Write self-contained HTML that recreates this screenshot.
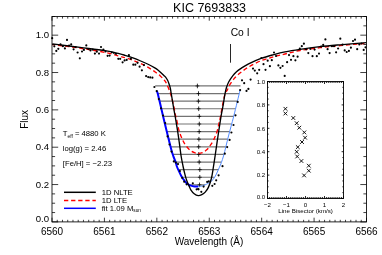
<!DOCTYPE html>
<html><head><meta charset="utf-8"><title>KIC 7693833</title>
<style>
html,body{margin:0;padding:0;background:#fff;width:382px;height:255px;overflow:hidden;font-family:"Liberation Sans",sans-serif;}
svg{display:block}
</style></head><body>
<svg width="382" height="255" viewBox="0 0 382 255" style="position:absolute;left:0;top:0;will-change:transform">
<path d="M155.20 85.95 H240.50 M157.69 93.56 H239.24 M159.54 101.17 H237.39 M161.34 108.77 H235.55 M163.15 116.38 H233.70 M164.96 123.99 H231.68 M166.80 131.60 H229.67 M168.70 139.21 H227.70 M170.60 146.81 H225.80 M172.80 154.42 H223.89 M175.58 162.03 H221.30 M178.25 169.64 H218.23 M182.11 177.25 H214.24 M189.31 184.85 H204.93" stroke="#000" stroke-width="1.2" fill="none" stroke-opacity="0.55"/>
<path d="M197.40 83.65 v4.6 M195.50 85.95 h3.8 M198.50 91.26 v4.6 M196.60 93.56 h3.8 M198.40 98.87 v4.6 M196.50 101.17 h3.8 M198.70 106.47 v4.6 M196.80 108.77 h3.8 M199.30 114.08 v4.6 M197.40 116.38 h3.8 M199.30 121.69 v4.6 M197.40 123.99 h3.8 M199.20 129.30 v4.6 M197.30 131.60 h3.8 M198.90 136.91 v4.6 M197.00 139.21 h3.8 M198.70 144.51 v4.6 M196.80 146.81 h3.8 M198.70 152.12 v4.6 M196.80 154.42 h3.8 M199.20 159.73 v4.6 M197.30 162.03 h3.8 M199.80 167.34 v4.6 M197.90 169.64 h3.8 M199.80 174.95 v4.6 M197.90 177.25 h3.8 M199.50 182.55 v4.6 M197.60 184.85 h3.8" stroke="#000" stroke-width="0.8" fill="none"/>
<path d="M156.60 90.60 C156.81 91.17 156.93 90.43 157.85 94.00 C158.77 97.57 160.67 106.00 162.10 112.00 C163.53 118.00 164.85 123.67 166.40 130.00 C167.95 136.33 170.23 145.62 171.40 150.00 C172.57 154.38 172.67 154.20 173.40 156.30 C174.13 158.40 175.25 160.98 175.80 162.60 C176.35 164.22 176.22 164.65 176.70 166.00 C177.18 167.35 177.92 169.00 178.70 170.70 C179.48 172.40 180.42 174.50 181.40 176.20 C182.38 177.90 183.55 179.58 184.60 180.90 C185.65 182.22 186.65 183.32 187.70 184.10 C188.75 184.88 189.77 185.22 190.90 185.60 C192.03 185.98 193.27 186.23 194.50 186.40 C195.73 186.57 197.67 186.57 198.30 186.60" stroke="#0000ff" stroke-width="2.0" fill="none"/>
<path d="M198.30 186.60 C199.32 186.37 201.95 186.37 204.40 185.20 C206.85 184.03 210.53 182.50 213.00 179.60 C215.47 176.70 217.45 171.73 219.20 167.80 C220.95 163.87 221.95 161.30 223.50 156.00 C225.05 150.70 226.78 142.67 228.50 136.00 C230.22 129.33 231.88 123.60 233.80 116.00 C235.72 108.40 238.97 94.67 240.00 90.40" stroke="#4a86ff" stroke-width="0.95" fill="none"/>
<path d="M52.30 44.50 C56.92 45.12 71.22 46.88 80.00 48.20 C88.78 49.52 98.48 51.08 105.00 52.40 C111.52 53.72 115.63 55.18 119.10 56.10 C122.57 57.02 123.63 57.27 125.80 57.90 C127.97 58.53 130.07 59.17 132.10 59.90 C134.13 60.63 135.98 61.42 138.00 62.30 C140.02 63.18 142.18 64.15 144.20 65.20 C146.22 66.25 148.22 67.43 150.10 68.60 C151.98 69.77 153.80 70.98 155.50 72.20 C157.20 73.42 158.82 74.55 160.30 75.90 C161.78 77.25 163.45 79.18 164.40 80.30 C165.35 81.42 165.40 81.48 166.00 82.60 C166.60 83.72 167.28 85.28 168.00 87.00 C168.72 88.72 169.67 91.07 170.30 92.90 C170.93 94.73 171.18 95.58 171.80 98.00 C172.42 100.42 173.38 104.52 174.00 107.40 C174.62 110.28 175.10 113.47 175.50 115.30 C175.90 117.13 175.90 116.18 176.40 118.40 C176.90 120.62 177.72 125.60 178.50 128.60 C179.28 131.60 180.05 133.83 181.10 136.40 C182.15 138.97 183.35 141.73 184.80 144.00 C186.25 146.27 188.18 148.55 189.80 150.00 C191.42 151.45 193.07 152.13 194.50 152.70 C195.93 153.27 197.08 153.40 198.40 153.40 C199.72 153.40 200.97 153.33 202.40 152.70 C203.83 152.07 205.67 150.85 207.00 149.60 C208.33 148.35 209.27 146.87 210.40 145.20 C211.53 143.53 212.70 141.85 213.80 139.60 C214.90 137.35 216.15 134.32 217.00 131.70 C217.85 129.08 218.35 126.25 218.90 123.90 C219.45 121.55 219.68 120.75 220.30 117.60 C220.92 114.45 221.78 109.05 222.60 105.00 C223.42 100.95 224.43 95.78 225.20 93.30 C225.97 90.82 226.35 91.67 227.20 90.10 C228.05 88.53 229.12 85.85 230.30 83.90 C231.48 81.95 233.25 79.72 234.30 78.40 C235.35 77.08 235.53 76.98 236.60 76.00 C237.67 75.02 238.70 74.00 240.70 72.50 C242.70 71.00 245.20 68.97 248.60 67.00 C252.00 65.03 256.92 62.40 261.10 60.70 C265.28 59.00 269.72 57.92 273.70 56.80 C277.68 55.68 280.62 55.05 285.00 54.00 C289.38 52.95 294.17 51.55 300.00 50.50 C305.83 49.45 313.33 48.52 320.00 47.70 C326.67 46.88 332.28 46.33 340.00 45.60 C347.72 44.87 361.92 43.68 366.30 43.30" stroke="#ff0000" stroke-width="1.35" fill="none" stroke-dasharray="4.3 2.8" stroke-dashoffset="1.3"/>
<path d="M52.30 43.80 C56.92 44.40 71.22 46.25 80.00 47.40 C88.78 48.55 98.48 49.65 105.00 50.70 C111.52 51.75 115.77 52.93 119.10 53.70 C122.43 54.47 122.70 54.60 125.00 55.30 C127.30 56.00 130.28 56.95 132.90 57.90 C135.52 58.85 138.08 59.90 140.70 61.00 C143.32 62.10 146.25 63.35 148.60 64.50 C150.95 65.65 153.25 66.98 154.80 67.90 C156.35 68.82 156.73 69.08 157.90 70.00 C159.07 70.92 160.77 72.45 161.80 73.40 C162.83 74.35 163.47 75.08 164.10 75.70 C164.73 76.32 165.02 76.33 165.60 77.10 C166.18 77.87 167.02 79.12 167.60 80.30 C168.18 81.48 168.65 82.90 169.10 84.20 C169.55 85.50 169.97 86.65 170.30 88.10 C170.63 89.55 170.73 90.73 171.10 92.90 C171.47 95.07 172.05 98.42 172.50 101.10 C172.95 103.78 173.37 106.52 173.80 109.00 C174.23 111.48 174.45 112.22 175.10 116.00 C175.75 119.78 177.00 127.25 177.70 131.70 C178.40 136.15 178.73 138.65 179.30 142.70 C179.87 146.75 180.47 152.03 181.10 156.00 C181.73 159.97 182.52 163.65 183.10 166.50 C183.68 169.35 184.10 171.08 184.60 173.10 C185.10 175.12 185.58 176.97 186.10 178.60 C186.62 180.23 187.23 181.73 187.70 182.90 C188.17 184.07 188.38 184.45 188.90 185.60 C189.42 186.75 189.92 188.45 190.80 189.80 C191.68 191.15 192.97 192.73 194.20 193.70 C195.43 194.67 196.93 195.45 198.20 195.60 C199.47 195.75 200.63 195.18 201.80 194.60 C202.97 194.02 204.10 193.30 205.20 192.10 C206.30 190.90 207.35 189.75 208.40 187.40 C209.45 185.05 210.67 181.40 211.50 178.00 C212.33 174.60 212.80 170.67 213.40 167.00 C214.00 163.33 214.33 161.17 215.10 156.00 C215.87 150.83 217.00 142.67 218.00 136.00 C219.00 129.33 220.22 121.28 221.10 116.00 C221.98 110.72 222.68 107.83 223.30 104.30 C223.92 100.77 224.28 97.55 224.80 94.80 C225.32 92.05 225.73 89.97 226.40 87.80 C227.07 85.63 227.72 83.83 228.80 81.80 C229.88 79.77 231.62 77.27 232.90 75.60 C234.18 73.93 235.20 72.97 236.50 71.80 C237.80 70.63 238.68 69.93 240.70 68.60 C242.72 67.27 245.20 65.50 248.60 63.80 C252.00 62.10 256.92 59.93 261.10 58.40 C265.28 56.87 269.72 55.70 273.70 54.60 C277.68 53.50 280.62 52.68 285.00 51.80 C289.38 50.92 294.17 50.15 300.00 49.30 C305.83 48.45 313.33 47.45 320.00 46.70 C326.67 45.95 332.28 45.48 340.00 44.80 C347.72 44.12 361.92 42.97 366.30 42.60" stroke="#000" stroke-width="1.35" fill="none"/>
<circle cx="52.20" cy="38.20" r="1.08" fill="#000"/>
<circle cx="54.30" cy="46.30" r="1.08" fill="#000"/>
<circle cx="56.30" cy="50.90" r="1.08" fill="#000"/>
<circle cx="58.30" cy="48.80" r="1.08" fill="#000"/>
<circle cx="60.50" cy="44.40" r="1.08" fill="#000"/>
<circle cx="62.90" cy="46.20" r="1.08" fill="#000"/>
<circle cx="64.90" cy="48.40" r="1.08" fill="#000"/>
<circle cx="67.00" cy="39.90" r="1.08" fill="#000"/>
<circle cx="69.10" cy="45.50" r="1.08" fill="#000"/>
<circle cx="71.20" cy="44.40" r="1.08" fill="#000"/>
<circle cx="73.60" cy="49.30" r="1.08" fill="#000"/>
<circle cx="75.60" cy="47.00" r="1.08" fill="#000"/>
<circle cx="77.60" cy="52.50" r="1.08" fill="#000"/>
<circle cx="79.80" cy="58.30" r="1.08" fill="#000"/>
<circle cx="82.00" cy="51.50" r="1.08" fill="#000"/>
<circle cx="83.90" cy="49.90" r="1.08" fill="#000"/>
<circle cx="86.30" cy="45.40" r="1.08" fill="#000"/>
<circle cx="88.40" cy="49.00" r="1.08" fill="#000"/>
<circle cx="90.50" cy="50.40" r="1.08" fill="#000"/>
<circle cx="92.70" cy="49.60" r="1.08" fill="#000"/>
<circle cx="94.90" cy="53.60" r="1.08" fill="#000"/>
<circle cx="96.80" cy="51.70" r="1.08" fill="#000"/>
<circle cx="99.00" cy="53.60" r="1.08" fill="#000"/>
<circle cx="101.00" cy="47.00" r="1.08" fill="#000"/>
<circle cx="103.40" cy="49.60" r="1.08" fill="#000"/>
<circle cx="105.50" cy="51.50" r="1.08" fill="#000"/>
<circle cx="107.60" cy="55.80" r="1.08" fill="#000"/>
<circle cx="109.60" cy="55.60" r="1.08" fill="#000"/>
<circle cx="111.80" cy="52.30" r="1.08" fill="#000"/>
<circle cx="113.90" cy="52.80" r="1.08" fill="#000"/>
<circle cx="116.00" cy="53.80" r="1.08" fill="#000"/>
<circle cx="118.30" cy="58.80" r="1.08" fill="#000"/>
<circle cx="120.20" cy="58.80" r="1.08" fill="#000"/>
<circle cx="122.60" cy="62.30" r="1.08" fill="#000"/>
<circle cx="124.60" cy="60.40" r="1.08" fill="#000"/>
<circle cx="126.70" cy="59.90" r="1.08" fill="#000"/>
<circle cx="128.90" cy="55.20" r="1.08" fill="#000"/>
<circle cx="130.90" cy="58.80" r="1.08" fill="#000"/>
<circle cx="133.30" cy="64.70" r="1.08" fill="#000"/>
<circle cx="135.30" cy="64.70" r="1.08" fill="#000"/>
<circle cx="137.50" cy="62.80" r="1.08" fill="#000"/>
<circle cx="139.60" cy="66.70" r="1.08" fill="#000"/>
<circle cx="141.90" cy="70.30" r="1.08" fill="#000"/>
<circle cx="143.90" cy="65.10" r="1.08" fill="#000"/>
<circle cx="146.10" cy="76.10" r="1.08" fill="#000"/>
<circle cx="148.20" cy="77.10" r="1.08" fill="#000"/>
<circle cx="150.20" cy="77.40" r="1.08" fill="#000"/>
<circle cx="152.40" cy="77.70" r="1.08" fill="#000"/>
<circle cx="154.40" cy="87.00" r="1.08" fill="#000"/>
<circle cx="242.00" cy="80.30" r="1.08" fill="#000"/>
<circle cx="244.20" cy="83.20" r="1.08" fill="#000"/>
<circle cx="246.50" cy="90.90" r="1.08" fill="#000"/>
<circle cx="248.40" cy="88.90" r="1.08" fill="#000"/>
<circle cx="250.60" cy="79.60" r="1.08" fill="#000"/>
<circle cx="253.00" cy="68.60" r="1.08" fill="#000"/>
<circle cx="254.80" cy="70.60" r="1.08" fill="#000"/>
<circle cx="257.20" cy="73.30" r="1.08" fill="#000"/>
<circle cx="259.20" cy="69.80" r="1.08" fill="#000"/>
<circle cx="261.40" cy="58.00" r="1.08" fill="#000"/>
<circle cx="263.50" cy="64.20" r="1.08" fill="#000"/>
<circle cx="265.50" cy="69.80" r="1.08" fill="#000"/>
<circle cx="267.70" cy="60.70" r="1.08" fill="#000"/>
<circle cx="269.90" cy="66.20" r="1.08" fill="#000"/>
<circle cx="271.80" cy="60.20" r="1.08" fill="#000"/>
<circle cx="274.00" cy="52.50" r="1.08" fill="#000"/>
<circle cx="276.00" cy="56.00" r="1.08" fill="#000"/>
<circle cx="278.40" cy="65.40" r="1.08" fill="#000"/>
<circle cx="280.40" cy="67.80" r="1.08" fill="#000"/>
<circle cx="282.60" cy="66.00" r="1.08" fill="#000"/>
<circle cx="284.70" cy="75.90" r="1.08" fill="#000"/>
<circle cx="287.10" cy="62.20" r="1.08" fill="#000"/>
<circle cx="289.00" cy="55.10" r="1.08" fill="#000"/>
<circle cx="291.00" cy="59.80" r="1.08" fill="#000"/>
<circle cx="293.40" cy="56.20" r="1.08" fill="#000"/>
<circle cx="295.40" cy="60.30" r="1.08" fill="#000"/>
<circle cx="297.60" cy="56.70" r="1.08" fill="#000"/>
<circle cx="299.80" cy="48.50" r="1.08" fill="#000"/>
<circle cx="301.80" cy="46.20" r="1.08" fill="#000"/>
<circle cx="303.90" cy="43.70" r="1.08" fill="#000"/>
<circle cx="306.10" cy="49.30" r="1.08" fill="#000"/>
<circle cx="308.30" cy="53.10" r="1.08" fill="#000"/>
<circle cx="310.30" cy="48.80" r="1.08" fill="#000"/>
<circle cx="312.50" cy="56.20" r="1.08" fill="#000"/>
<circle cx="314.60" cy="49.60" r="1.08" fill="#000"/>
<circle cx="316.80" cy="56.20" r="1.08" fill="#000"/>
<circle cx="319.00" cy="53.60" r="1.08" fill="#000"/>
<circle cx="321.10" cy="46.50" r="1.08" fill="#000"/>
<circle cx="323.20" cy="44.90" r="1.08" fill="#000"/>
<circle cx="325.40" cy="39.40" r="1.08" fill="#000"/>
<circle cx="327.60" cy="49.20" r="1.08" fill="#000"/>
<circle cx="329.60" cy="53.10" r="1.08" fill="#000"/>
<circle cx="331.90" cy="46.20" r="1.08" fill="#000"/>
<circle cx="334.00" cy="46.20" r="1.08" fill="#000"/>
<circle cx="336.10" cy="52.30" r="1.08" fill="#000"/>
<circle cx="338.10" cy="48.50" r="1.08" fill="#000"/>
<circle cx="340.30" cy="38.70" r="1.08" fill="#000"/>
<circle cx="342.60" cy="44.60" r="1.08" fill="#000"/>
<circle cx="344.70" cy="50.40" r="1.08" fill="#000"/>
<circle cx="346.70" cy="52.00" r="1.08" fill="#000"/>
<circle cx="348.90" cy="50.90" r="1.08" fill="#000"/>
<circle cx="350.90" cy="47.70" r="1.08" fill="#000"/>
<circle cx="353.00" cy="41.00" r="1.08" fill="#000"/>
<circle cx="355.00" cy="39.70" r="1.08" fill="#000"/>
<circle cx="357.20" cy="49.20" r="1.08" fill="#000"/>
<circle cx="359.30" cy="44.40" r="1.08" fill="#000"/>
<circle cx="361.50" cy="43.50" r="1.08" fill="#000"/>
<circle cx="363.70" cy="49.90" r="1.08" fill="#000"/>
<circle cx="365.50" cy="47.30" r="1.08" fill="#000"/>
<circle cx="240.10" cy="90.10" r="1.08" fill="#000"/>
<circle cx="237.70" cy="101.90" r="1.08" fill="#000"/>
<circle cx="235.50" cy="115.30" r="1.08" fill="#000"/>
<circle cx="233.50" cy="125.00" r="1.08" fill="#000"/>
<circle cx="231.40" cy="132.50" r="1.08" fill="#000"/>
<circle cx="229.60" cy="139.90" r="1.08" fill="#000"/>
<circle cx="227.20" cy="147.10" r="1.08" fill="#000"/>
<circle cx="224.80" cy="153.70" r="1.08" fill="#000"/>
<circle cx="222.50" cy="166.20" r="1.08" fill="#000"/>
<circle cx="218.60" cy="175.30" r="1.08" fill="#000"/>
<circle cx="216.20" cy="180.30" r="1.08" fill="#000"/>
<circle cx="214.60" cy="184.00" r="1.08" fill="#000"/>
<circle cx="212.30" cy="185.80" r="1.08" fill="#000"/>
<circle cx="208.80" cy="181.40" r="1.08" fill="#000"/>
<circle cx="207.20" cy="181.90" r="1.08" fill="#000"/>
<circle cx="203.60" cy="186.60" r="1.08" fill="#000"/>
<circle cx="201.30" cy="191.80" r="1.08" fill="#000"/>
<circle cx="198.50" cy="189.30" r="1.08" fill="#000"/>
<circle cx="196.60" cy="189.30" r="1.08" fill="#000"/>
<circle cx="198.10" cy="189.00" r="1.08" fill="#000"/>
<circle cx="156.70" cy="91.10" r="1.08" fill="#000"/>
<circle cx="158.80" cy="99.10" r="1.08" fill="#000"/>
<circle cx="161.00" cy="108.30" r="1.08" fill="#000"/>
<circle cx="163.05" cy="115.50" r="1.08" fill="#000"/>
<circle cx="165.20" cy="123.00" r="1.08" fill="#000"/>
<circle cx="167.60" cy="136.40" r="1.08" fill="#000"/>
<circle cx="169.50" cy="144.50" r="1.08" fill="#000"/>
<circle cx="171.50" cy="151.60" r="1.08" fill="#000"/>
<circle cx="173.80" cy="161.40" r="1.08" fill="#000"/>
<circle cx="175.80" cy="162.60" r="1.08" fill="#000"/>
<circle cx="178.00" cy="164.10" r="1.08" fill="#000"/>
<circle cx="179.90" cy="171.10" r="1.08" fill="#000"/>
<circle cx="182.20" cy="177.80" r="1.08" fill="#000"/>
<circle cx="184.20" cy="181.70" r="1.08" fill="#000"/>
<circle cx="186.60" cy="184.30" r="1.08" fill="#000"/>
<circle cx="192.80" cy="183.30" r="1.08" fill="#000"/>
<path d="M230.5 44 V62.7" stroke="#000" stroke-width="0.85"/>
<text x="230.7" y="35.6" font-family="Liberation Sans, sans-serif" font-size="10.3" fill="#000">Co I</text>
<rect x="52.00" y="16.50" width="314.50" height="205.40" fill="none" stroke="#000" stroke-width="0.85"/>
<path d="M52.00 221.90 v-4.20 M52.00 16.50 v4.20 M57.24 221.90 v-2.10 M57.24 16.50 v2.10 M62.48 221.90 v-2.10 M62.48 16.50 v2.10 M67.72 221.90 v-2.10 M67.72 16.50 v2.10 M72.97 221.90 v-2.10 M72.97 16.50 v2.10 M78.21 221.90 v-2.10 M78.21 16.50 v2.10 M83.45 221.90 v-2.10 M83.45 16.50 v2.10 M88.69 221.90 v-2.10 M88.69 16.50 v2.10 M93.93 221.90 v-2.10 M93.93 16.50 v2.10 M99.17 221.90 v-2.10 M99.17 16.50 v2.10 M104.42 221.90 v-4.20 M104.42 16.50 v4.20 M109.66 221.90 v-2.10 M109.66 16.50 v2.10 M114.90 221.90 v-2.10 M114.90 16.50 v2.10 M120.14 221.90 v-2.10 M120.14 16.50 v2.10 M125.38 221.90 v-2.10 M125.38 16.50 v2.10 M130.62 221.90 v-2.10 M130.62 16.50 v2.10 M135.87 221.90 v-2.10 M135.87 16.50 v2.10 M141.11 221.90 v-2.10 M141.11 16.50 v2.10 M146.35 221.90 v-2.10 M146.35 16.50 v2.10 M151.59 221.90 v-2.10 M151.59 16.50 v2.10 M156.83 221.90 v-4.20 M156.83 16.50 v4.20 M162.07 221.90 v-2.10 M162.07 16.50 v2.10 M167.32 221.90 v-2.10 M167.32 16.50 v2.10 M172.56 221.90 v-2.10 M172.56 16.50 v2.10 M177.80 221.90 v-2.10 M177.80 16.50 v2.10 M183.04 221.90 v-2.10 M183.04 16.50 v2.10 M188.28 221.90 v-2.10 M188.28 16.50 v2.10 M193.53 221.90 v-2.10 M193.53 16.50 v2.10 M198.77 221.90 v-2.10 M198.77 16.50 v2.10 M204.01 221.90 v-2.10 M204.01 16.50 v2.10 M209.25 221.90 v-4.20 M209.25 16.50 v4.20 M214.49 221.90 v-2.10 M214.49 16.50 v2.10 M219.73 221.90 v-2.10 M219.73 16.50 v2.10 M224.97 221.90 v-2.10 M224.97 16.50 v2.10 M230.22 221.90 v-2.10 M230.22 16.50 v2.10 M235.46 221.90 v-2.10 M235.46 16.50 v2.10 M240.70 221.90 v-2.10 M240.70 16.50 v2.10 M245.94 221.90 v-2.10 M245.94 16.50 v2.10 M251.18 221.90 v-2.10 M251.18 16.50 v2.10 M256.43 221.90 v-2.10 M256.43 16.50 v2.10 M261.67 221.90 v-4.20 M261.67 16.50 v4.20 M266.91 221.90 v-2.10 M266.91 16.50 v2.10 M272.15 221.90 v-2.10 M272.15 16.50 v2.10 M277.39 221.90 v-2.10 M277.39 16.50 v2.10 M282.63 221.90 v-2.10 M282.63 16.50 v2.10 M287.88 221.90 v-2.10 M287.88 16.50 v2.10 M293.12 221.90 v-2.10 M293.12 16.50 v2.10 M298.36 221.90 v-2.10 M298.36 16.50 v2.10 M303.60 221.90 v-2.10 M303.60 16.50 v2.10 M308.84 221.90 v-2.10 M308.84 16.50 v2.10 M314.08 221.90 v-4.20 M314.08 16.50 v4.20 M319.32 221.90 v-2.10 M319.32 16.50 v2.10 M324.57 221.90 v-2.10 M324.57 16.50 v2.10 M329.81 221.90 v-2.10 M329.81 16.50 v2.10 M335.05 221.90 v-2.10 M335.05 16.50 v2.10 M340.29 221.90 v-2.10 M340.29 16.50 v2.10 M345.53 221.90 v-2.10 M345.53 16.50 v2.10 M350.77 221.90 v-2.10 M350.77 16.50 v2.10 M356.02 221.90 v-2.10 M356.02 16.50 v2.10 M361.26 221.90 v-2.10 M361.26 16.50 v2.10 M366.50 221.90 v-4.20 M366.50 16.50 v4.20 M52.00 221.90 h6.20 M366.50 221.90 h-6.20 M52.00 212.56 h3.10 M366.50 212.56 h-3.10 M52.00 203.23 h3.10 M366.50 203.23 h-3.10 M52.00 193.89 h3.10 M366.50 193.89 h-3.10 M52.00 184.55 h6.20 M366.50 184.55 h-6.20 M52.00 175.22 h3.10 M366.50 175.22 h-3.10 M52.00 165.88 h3.10 M366.50 165.88 h-3.10 M52.00 156.55 h3.10 M366.50 156.55 h-3.10 M52.00 147.21 h6.20 M366.50 147.21 h-6.20 M52.00 137.87 h3.10 M366.50 137.87 h-3.10 M52.00 128.54 h3.10 M366.50 128.54 h-3.10 M52.00 119.20 h3.10 M366.50 119.20 h-3.10 M52.00 109.86 h6.20 M366.50 109.86 h-6.20 M52.00 100.53 h3.10 M366.50 100.53 h-3.10 M52.00 91.19 h3.10 M366.50 91.19 h-3.10 M52.00 81.85 h3.10 M366.50 81.85 h-3.10 M52.00 72.52 h6.20 M366.50 72.52 h-6.20 M52.00 63.18 h3.10 M366.50 63.18 h-3.10 M52.00 53.85 h3.10 M366.50 53.85 h-3.10 M52.00 44.51 h3.10 M366.50 44.51 h-3.10 M52.00 35.17 h6.20 M366.50 35.17 h-6.20 M52.00 25.84 h3.10 M366.50 25.84 h-3.10 M52.00 16.50 h3.10 M366.50 16.50 h-3.10" stroke="#000" stroke-width="0.75" fill="none"/>
<text x="52.00" y="234.5" text-anchor="middle" font-family="Liberation Sans, sans-serif" font-size="10" fill="#000">6560</text>
<text x="104.42" y="234.5" text-anchor="middle" font-family="Liberation Sans, sans-serif" font-size="10" fill="#000">6561</text>
<text x="156.83" y="234.5" text-anchor="middle" font-family="Liberation Sans, sans-serif" font-size="10" fill="#000">6562</text>
<text x="209.25" y="234.5" text-anchor="middle" font-family="Liberation Sans, sans-serif" font-size="10" fill="#000">6563</text>
<text x="261.67" y="234.5" text-anchor="middle" font-family="Liberation Sans, sans-serif" font-size="10" fill="#000">6564</text>
<text x="314.08" y="234.5" text-anchor="middle" font-family="Liberation Sans, sans-serif" font-size="10" fill="#000">6565</text>
<text x="366.50" y="234.5" text-anchor="middle" font-family="Liberation Sans, sans-serif" font-size="10" fill="#000">6566</text>
<text x="49.0" y="221.80" text-anchor="end" font-family="Liberation Sans, sans-serif" font-size="9.6" fill="#000">0.0</text>
<text x="49.0" y="187.65" text-anchor="end" font-family="Liberation Sans, sans-serif" font-size="9.6" fill="#000">0.2</text>
<text x="49.0" y="150.31" text-anchor="end" font-family="Liberation Sans, sans-serif" font-size="9.6" fill="#000">0.4</text>
<text x="49.0" y="112.96" text-anchor="end" font-family="Liberation Sans, sans-serif" font-size="9.6" fill="#000">0.6</text>
<text x="49.0" y="75.62" text-anchor="end" font-family="Liberation Sans, sans-serif" font-size="9.6" fill="#000">0.8</text>
<text x="49.0" y="38.27" text-anchor="end" font-family="Liberation Sans, sans-serif" font-size="9.6" fill="#000">1.0</text>
<text x="209.6" y="11.8" text-anchor="middle" font-family="Liberation Sans, sans-serif" font-size="12.5" fill="#000">KIC 7693833</text>
<text x="209" y="245.4" text-anchor="middle" font-family="Liberation Sans, sans-serif" font-size="10" fill="#000">Wavelength (Å)</text>
<text transform="translate(28.1 119.4) rotate(-90)" text-anchor="middle" font-family="Liberation Sans, sans-serif" font-size="10" fill="#000">Flux</text>
<text x="62.8" y="136" font-family="Liberation Sans, sans-serif" font-size="7.7" fill="#000">T<tspan font-size="4.8" dy="1.5">eff</tspan><tspan dy="-1.5"> = 4880 K</tspan></text>
<text x="62.8" y="150.6" font-family="Liberation Sans, sans-serif" font-size="7.7" fill="#000">log(g) = 2.46</text>
<text x="62.8" y="165.5" font-family="Liberation Sans, sans-serif" font-size="7.7" fill="#000">[Fe/H] = −2.23</text>
<path d="M64 192.3 H95.8" stroke="#000" stroke-width="1.5"/>
<path d="M64 200.5 H95.8" stroke="#ff0000" stroke-width="1.5" stroke-dasharray="4.3 2.8"/>
<path d="M64 208.3 H95.8" stroke="#0000ff" stroke-width="1.5"/>
<text x="101.7" y="194.7" font-family="Liberation Sans, sans-serif" font-size="7.7" fill="#000">1D NLTE</text>
<text x="101.7" y="202.5" font-family="Liberation Sans, sans-serif" font-size="7.7" fill="#000">1D LTE</text>
<text x="101.7" y="210.5" font-family="Liberation Sans, sans-serif" font-size="7.7" fill="#000">fit 1.09 M<tspan font-size="4.7" dy="1.3">sun</tspan></text>
<rect x="267.50" y="81.50" width="76.00" height="117.00" fill="#fff" stroke="#000" stroke-width="0.9"/>
<path d="M267.50 198.50 v-2.50 M267.50 81.50 v2.50 M269.40 198.50 v-1.50 M269.40 81.50 v1.50 M271.30 198.50 v-1.50 M271.30 81.50 v1.50 M273.20 198.50 v-1.50 M273.20 81.50 v1.50 M275.10 198.50 v-1.50 M275.10 81.50 v1.50 M277.00 198.50 v-1.50 M277.00 81.50 v1.50 M278.90 198.50 v-1.50 M278.90 81.50 v1.50 M280.80 198.50 v-1.50 M280.80 81.50 v1.50 M282.70 198.50 v-1.50 M282.70 81.50 v1.50 M284.60 198.50 v-1.50 M284.60 81.50 v1.50 M286.50 198.50 v-2.50 M286.50 81.50 v2.50 M288.40 198.50 v-1.50 M288.40 81.50 v1.50 M290.30 198.50 v-1.50 M290.30 81.50 v1.50 M292.20 198.50 v-1.50 M292.20 81.50 v1.50 M294.10 198.50 v-1.50 M294.10 81.50 v1.50 M296.00 198.50 v-1.50 M296.00 81.50 v1.50 M297.90 198.50 v-1.50 M297.90 81.50 v1.50 M299.80 198.50 v-1.50 M299.80 81.50 v1.50 M301.70 198.50 v-1.50 M301.70 81.50 v1.50 M303.60 198.50 v-1.50 M303.60 81.50 v1.50 M305.50 198.50 v-2.50 M305.50 81.50 v2.50 M307.40 198.50 v-1.50 M307.40 81.50 v1.50 M309.30 198.50 v-1.50 M309.30 81.50 v1.50 M311.20 198.50 v-1.50 M311.20 81.50 v1.50 M313.10 198.50 v-1.50 M313.10 81.50 v1.50 M315.00 198.50 v-1.50 M315.00 81.50 v1.50 M316.90 198.50 v-1.50 M316.90 81.50 v1.50 M318.80 198.50 v-1.50 M318.80 81.50 v1.50 M320.70 198.50 v-1.50 M320.70 81.50 v1.50 M322.60 198.50 v-1.50 M322.60 81.50 v1.50 M324.50 198.50 v-2.50 M324.50 81.50 v2.50 M326.40 198.50 v-1.50 M326.40 81.50 v1.50 M328.30 198.50 v-1.50 M328.30 81.50 v1.50 M330.20 198.50 v-1.50 M330.20 81.50 v1.50 M332.10 198.50 v-1.50 M332.10 81.50 v1.50 M334.00 198.50 v-1.50 M334.00 81.50 v1.50 M335.90 198.50 v-1.50 M335.90 81.50 v1.50 M337.80 198.50 v-1.50 M337.80 81.50 v1.50 M339.70 198.50 v-1.50 M339.70 81.50 v1.50 M341.60 198.50 v-1.50 M341.60 81.50 v1.50 M343.50 198.50 v-2.50 M343.50 81.50 v2.50 M267.50 198.50 h1.90 M343.50 198.50 h-1.90 M267.50 192.65 h1.10 M343.50 192.65 h-1.10 M267.50 186.80 h1.10 M343.50 186.80 h-1.10 M267.50 180.95 h1.10 M343.50 180.95 h-1.10 M267.50 175.10 h1.90 M343.50 175.10 h-1.90 M267.50 169.25 h1.10 M343.50 169.25 h-1.10 M267.50 163.40 h1.10 M343.50 163.40 h-1.10 M267.50 157.55 h1.10 M343.50 157.55 h-1.10 M267.50 151.70 h1.90 M343.50 151.70 h-1.90 M267.50 145.85 h1.10 M343.50 145.85 h-1.10 M267.50 140.00 h1.10 M343.50 140.00 h-1.10 M267.50 134.15 h1.10 M343.50 134.15 h-1.10 M267.50 128.30 h1.90 M343.50 128.30 h-1.90 M267.50 122.45 h1.10 M343.50 122.45 h-1.10 M267.50 116.60 h1.10 M343.50 116.60 h-1.10 M267.50 110.75 h1.10 M343.50 110.75 h-1.10 M267.50 104.90 h1.90 M343.50 104.90 h-1.90 M267.50 99.05 h1.10 M343.50 99.05 h-1.10 M267.50 93.20 h1.10 M343.50 93.20 h-1.10 M267.50 87.35 h1.10 M343.50 87.35 h-1.10 M267.50 81.50 h1.90 M343.50 81.50 h-1.90" stroke="#000" stroke-width="0.85" fill="none"/>
<text x="265.2" y="198.70" text-anchor="end" font-family="Liberation Sans, sans-serif" font-size="6.1" fill="#000">0.0</text>
<text x="265.2" y="177.30" text-anchor="end" font-family="Liberation Sans, sans-serif" font-size="6.1" fill="#000">0.2</text>
<text x="265.2" y="153.90" text-anchor="end" font-family="Liberation Sans, sans-serif" font-size="6.1" fill="#000">0.4</text>
<text x="265.2" y="130.50" text-anchor="end" font-family="Liberation Sans, sans-serif" font-size="6.1" fill="#000">0.6</text>
<text x="265.2" y="107.10" text-anchor="end" font-family="Liberation Sans, sans-serif" font-size="6.1" fill="#000">0.8</text>
<text x="265.2" y="83.70" text-anchor="end" font-family="Liberation Sans, sans-serif" font-size="6.1" fill="#000">1.0</text>
<text x="267.50" y="206.6" text-anchor="middle" font-family="Liberation Sans, sans-serif" font-size="6.1" fill="#000">−2</text>
<text x="286.50" y="206.6" text-anchor="middle" font-family="Liberation Sans, sans-serif" font-size="6.1" fill="#000">−1</text>
<text x="305.50" y="206.6" text-anchor="middle" font-family="Liberation Sans, sans-serif" font-size="6.1" fill="#000">0</text>
<text x="324.50" y="206.6" text-anchor="middle" font-family="Liberation Sans, sans-serif" font-size="6.1" fill="#000">1</text>
<text x="343.50" y="206.6" text-anchor="middle" font-family="Liberation Sans, sans-serif" font-size="6.1" fill="#000">2</text>
<text x="305.6" y="213.4" text-anchor="middle" font-family="Liberation Sans, sans-serif" font-size="6.2" fill="#000">Line Bisector (km/s)</text>
<path d="M283.55 106.95 l3.70 3.70 M283.55 110.65 l3.70 -3.70 M283.55 111.65 l3.70 3.70 M283.55 115.35 l3.70 -3.70 M291.45 116.15 l3.70 3.70 M291.45 119.85 l3.70 -3.70 M294.85 121.35 l3.70 3.70 M294.85 125.05 l3.70 -3.70 M297.45 125.85 l3.70 3.70 M297.45 129.55 l3.70 -3.70 M302.45 130.55 l3.70 3.70 M302.45 134.25 l3.70 -3.70 M303.25 135.85 l3.70 3.70 M303.25 139.55 l3.70 -3.70 M300.15 140.15 l3.70 3.70 M300.15 143.85 l3.70 -3.70 M295.95 145.25 l3.70 3.70 M295.95 148.95 l3.70 -3.70 M294.85 149.95 l3.70 3.70 M294.85 153.65 l3.70 -3.70 M295.35 154.65 l3.70 3.70 M295.35 158.35 l3.70 -3.70 M299.55 159.15 l3.70 3.70 M299.55 162.85 l3.70 -3.70 M306.95 163.85 l3.70 3.70 M306.95 167.55 l3.70 -3.70 M306.95 168.85 l3.70 3.70 M306.95 172.55 l3.70 -3.70 M302.25 173.55 l3.70 3.70 M302.25 177.25 l3.70 -3.70" stroke="#000" stroke-width="0.92" fill="none"/>
</svg>
</body></html>
